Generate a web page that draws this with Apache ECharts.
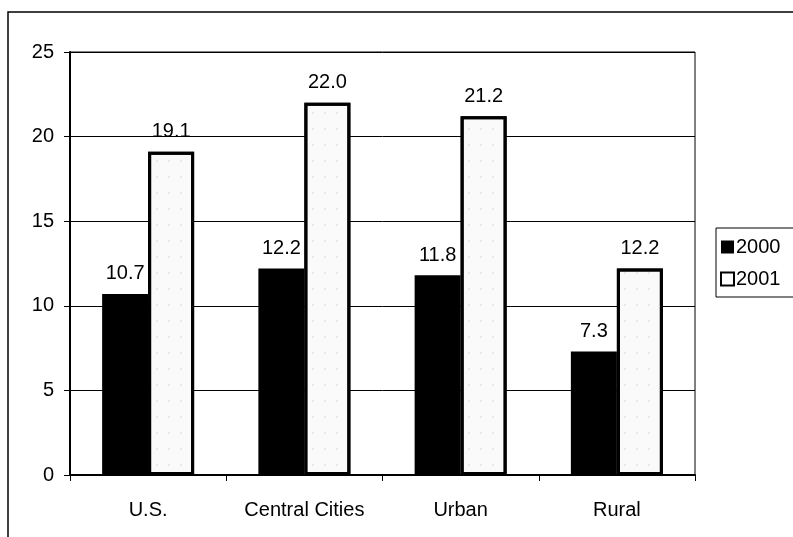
<!DOCTYPE html>
<html>
<head>
<meta charset="utf-8">
<script src="https://cdn.jsdelivr.net/npm/echarts@6/dist/echarts.min.js"></script>
<style>
  html, body { margin: 0; padding: 0; background: #fff; }
  #chart { width: 793px; height: 537px; }
</style>
</head>
<body>
<div id="chart"></div>
<script>
const categories = ['U.S.', 'Central Cities', 'Urban', 'Rural'];
const values2000 = [10.7, 12.2, 11.8, 7.3];
const values2001 = [19.1, 22.0, 21.2, 12.2];

const chart = echarts.init(document.getElementById('chart'));
const font = 'Liberation Sans, Arial, sans-serif';

const option = {
    backgroundColor: '#fff',
    animation: false,
    textStyle: { fontFamily: font },
    graphic: [{
        type: 'rect',
        shape: { x: 8, y: 12, width: 900, height: 600 },
        style: { fill: 'none', stroke: '#000', lineWidth: 1.5 }
    }],
    grid: {
        left: 70, top: 52, width: 625, height: 423,
        show: true, borderColor: '#000', borderWidth: 1
    },
    legend: {
        orient: 'vertical',
        left: 716, top: 228,
        padding: [9, 40, 8, 4],
        itemGap: 12,
        itemWidth: 13, itemHeight: 13,
        borderColor: '#000', borderWidth: 1,
        textStyle: { fontSize: 20, color: '#000', fontFamily: font, padding: [0, 0, 0, -3] },
        data: [
            { name: '2000', icon: 'rect', itemStyle: { color: '#000', borderWidth: 0 } },
            { name: '2001', icon: 'rect', itemStyle: { color: '#fff', borderColor: '#000', borderWidth: 2, decal: 'none' } }
        ]
    },
    xAxis: {
        type: 'category',
        data: categories,
        axisLine: { lineStyle: { color: '#000', width: 2 } },
        axisTick: { show: true, length: 6, lineStyle: { color: '#000' } },
        axisLabel: { color: '#000', fontSize: 20, margin: 25, fontFamily: font }
    },
    yAxis: {
        type: 'value',
        min: 0, max: 25, interval: 5,
        axisLine: { show: true, lineStyle: { color: '#000', width: 2 } },
        axisTick: { show: true, length: 6, lineStyle: { color: '#000' } },
        axisLabel: { color: '#000', fontSize: 20, margin: 16, fontFamily: font },
        splitLine: { lineStyle: { color: '#000', width: 1 } }
    },
    series: [
        {
            name: '2000',
            type: 'bar',
            data: values2000,
            barWidth: 46,
            barGap: '0%',
            itemStyle: { color: '#000' },
            label: {
                show: true, position: 'top', distance: 10,
                color: '#000', fontSize: 20, fontFamily: font,
                formatter: p => p.value.toFixed(1)
            }
        },
        {
            name: '2001',
            type: 'bar',
            data: values2001,
            barWidth: 46,
            itemStyle: {
                color: '#fafafa',
                borderColor: '#000',
                borderWidth: 3,
                decal: {
                    symbol: 'circle',
                    symbolSize: 0.6,
                    color: 'rgba(120,120,120,0.6)',
                    dashArrayX: [[2, 10]],
                    dashArrayY: [2, 14],
                    rotation: 0
                }
            },
            label: {
                show: true, position: 'top', distance: 10,
                color: '#000', fontSize: 20, fontFamily: font,
                formatter: p => p.value.toFixed(1)
            }
        }
    ]
};

chart.setOption(option);
window.addEventListener('resize', () => chart.resize());
</script>
</body>
</html>
